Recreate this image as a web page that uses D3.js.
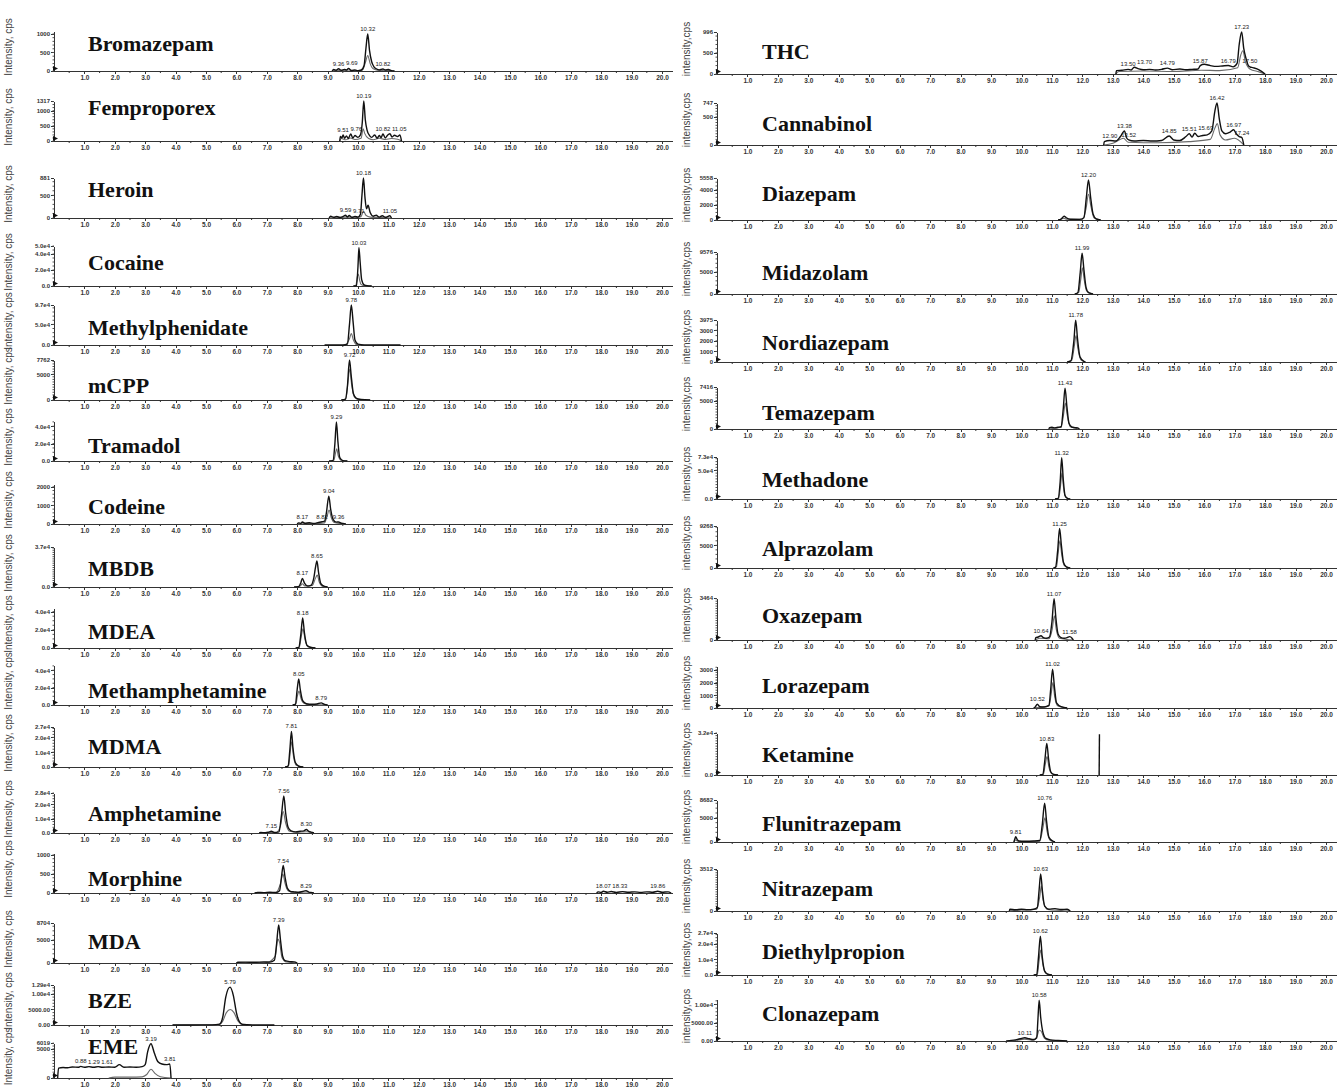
<!DOCTYPE html>
<meta charset="utf-8">
<style>
body { margin: 0; background: #fff; }
svg { display: block; }
.axis path, .axis line { stroke: #333; stroke-width: 1; shape-rendering: crispEdges; }
.axis text { font-family: "Liberation Sans", Arial, sans-serif; fill: #333; }
.xa text { font-size: 6.5px; font-weight: bold; }
.ya text { font-size: 6px; font-weight: bold; }
.title { font-family: "Liberation Serif", "Times New Roman", serif; font-weight: bold; font-size: 22px; fill: #111; }
.ylab { font-family: "Liberation Sans", Arial, sans-serif; font-size: 10px; fill: #444; }
.pk { font-family: "Liberation Sans", Arial, sans-serif; font-size: 6px; fill: #222; }
</style>
<body>
<script src="https://cdn.jsdelivr.net/npm/d3@7"></script>
<script>

var width = 1341,
    height = 1091;

// ---- left column data ----
var leftNames = ["Bromazepam", "Femproporex", "Heroin", "Cocaine", "Methylphenidate", "mCPP",
  "Tramadol", "Codeine", "MBDB", "MDEA", "Methamphetamine", "MDMA", "Amphetamine",
  "Morphine", "MDA", "BZE", "EME"];

var leftYMax = [1080, 1317, 881, 50000, 97000, 7762, 46000, 2150, 37000, 44000, 46000,
  27000, 28000, 1050, 8704, 12900, 6019];

var leftYTicks = [
  ["0", "500", "1000"],
  ["0", "500", "1000", "1317"],
  ["0", "500", "881"],
  ["0.0", "2.0e4", "4.0e4", "5.0e4"],
  ["0.0", "5.0e4", "9.7e4"],
  ["0", "5000", "7762"],
  ["0.0", "2.0e4", "4.0e4"],
  ["0", "1000", "2000"],
  ["0.0", "3.7e4"],
  ["0.0", "2.0e4", "4.0e4"],
  ["0.0", "2.0e4", "4.0e4"],
  ["0.0", "1.0e4", "2.0e4", "2.7e4"],
  ["0.0", "1.0e4", "2.0e4", "2.8e4"],
  ["0", "500", "1000"],
  ["0", "5000", "8704"],
  ["0.00", "5000.00", "1.00e4", "1.29e4"],
  ["0", "5000", "6019"]
];

// quantifier trace (rt, intensity); nested lists = several segments
var leftMain = [
  [[9.15,0],[9.2,40],[9.28,20],[9.36,60],[9.45,20],[9.55,45],[9.62,25],[9.69,70],[9.78,15],[9.9,25],[10.0,10],[10.1,20],[10.2,150],[10.26,600],[10.32,1000],[10.38,550],[10.45,250],[10.52,120],[10.6,60],[10.7,30],[10.82,55],[10.9,25],[11.0,40],[11.1,10],[11.2,0]],
  [[9.4,0],[9.42,150],[9.47,100],[9.51,200],[9.56,90],[9.62,170],[9.68,80],[9.76,230],[9.83,100],[9.9,180],[10.0,120],[10.08,200],[10.14,600],[10.19,1317],[10.24,700],[10.3,350],[10.38,180],[10.45,120],[10.55,200],[10.63,90],[10.7,180],[10.76,110],[10.82,230],[10.9,100],[10.97,190],[11.05,240],[11.12,130],[11.2,190],[11.3,150],[11.38,200],[11.43,0]],
  [[9.05,0],[9.1,40],[9.2,15],[9.3,35],[9.4,10],[9.5,30],[9.59,60],[9.65,20],[9.71,55],[9.8,15],[9.9,35],[10.0,20],[10.08,80],[10.13,500],[10.18,881],[10.23,450],[10.28,200],[10.33,280],[10.4,120],[10.5,40],[10.6,60],[10.7,20],[10.8,50],[10.9,15],[11.05,50],[11.1,0]],
  [[9.85,0],[9.95,500],[10.0,25000],[10.03,48000],[10.07,30000],[10.12,8000],[10.2,1500],[10.3,300],[10.45,0]],
  [[8.9,0],[9.5,0],[9.65,2000],[9.72,50000],[9.78,97000],[9.84,55000],[9.9,12000],[10.0,2000],[10.2,300],[11.4,0]],
  [[9.45,0],[9.58,100],[9.65,2500],[9.72,7762],[9.78,4500],[9.85,1200],[9.95,300],[10.1,100],[10.4,0]],
  [[9.05,0],[9.18,800],[9.24,20000],[9.29,45000],[9.34,22000],[9.4,4000],[9.5,500],[9.65,0]],
  [[8.0,0],[8.05,60],[8.12,30],[8.17,110],[8.25,40],[8.4,70],[8.55,30],[8.7,80],[8.82,120],[8.9,150],[8.96,600],[9.04,1500],[9.1,800],[9.18,250],[9.28,100],[9.36,110],[9.45,40],[9.55,20],[9.6,0]],
  [[7.9,0],[8.05,300],[8.12,4000],[8.17,8000],[8.24,3500],[8.35,800],[8.45,1500],[8.55,9000],[8.6,18000],[8.65,24000],[8.7,14000],[8.78,3000],[8.9,500],[9.0,0]],
  [[7.95,0],[8.05,500],[8.12,15000],[8.18,33000],[8.24,16000],[8.32,3000],[8.45,500],[8.6,0]],
  [[7.85,0],[7.94,800],[8.0,18000],[8.05,30000],[8.1,18000],[8.18,5000],[8.3,1500],[8.5,800],[8.65,1200],[8.79,2500],[8.88,1000],[9.0,0]],
  [[7.6,0],[7.7,600],[7.76,12000],[7.81,24000],[7.86,13000],[7.94,3000],[8.05,500],[8.2,0]],
  [[6.75,0],[6.8,300],[6.95,200],[7.05,500],[7.15,1200],[7.25,400],[7.4,800],[7.48,12000],[7.56,26000],[7.62,14000],[7.7,4000],[7.8,1500],[7.95,800],[8.1,1200],[8.22,1500],[8.3,2500],[8.38,1200],[8.5,400],[8.55,0]],
  [[[6.6,0],[6.7,15],[6.9,10],[7.1,20],[7.3,15],[7.42,60],[7.48,400],[7.54,720],[7.6,420],[7.68,120],[7.78,40],[7.9,30],[8.05,20],[8.18,40],[8.29,60],[8.38,25],[8.5,10],[8.55,0]],
   [[17.85,0],[17.9,30],[18.0,15],[18.07,45],[18.2,20],[18.33,40],[18.5,15],[18.7,35],[18.9,20],[19.1,30],[19.3,15],[19.5,30],[19.7,20],[19.86,45],[20.0,20],[20.2,30],[20.3,0]]],
  [[6.0,0],[6.05,150],[6.3,200],[6.6,150],[6.9,250],[7.1,200],[7.25,600],[7.32,4000],[7.39,8300],[7.45,5000],[7.52,1500],[7.6,500],[7.75,300],[7.9,250],[8.0,0]],
  [[3.9,0],[4.5,20],[5.2,50],[5.45,300],[5.55,2500],[5.65,9000],[5.79,12200],[5.9,9500],[6.0,4000],[6.1,1000],[6.2,200],[6.5,30],[7.25,0]],
  [[0.12,0],[0.15,1700],[0.3,1800],[0.45,1750],[0.6,1900],[0.8,1850],[0.88,2000],[1.0,1850],[1.15,1950],[1.3,1850],[1.45,1950],[1.6,1850],[1.8,1900],[2.0,1850],[2.15,2300],[2.3,1850],[2.5,1900],[2.7,1850],[2.9,1950],[3.0,2300],[3.08,4500],[3.19,5900],[3.3,4300],[3.42,2800],[3.55,2400],[3.7,2300],[3.81,2400],[3.85,0]]
];

// qualifier trace
var leftSecond = [
  [[9.15,0],[9.3,20],[9.5,10],[9.7,25],[9.9,5],[10.15,30],[10.25,250],[10.32,420],[10.4,200],[10.5,60],[10.7,15],[10.9,20],[11.2,0]],
  [[9.4,0],[9.45,80],[9.6,40],[9.75,100],[9.9,50],[10.1,90],[10.17,400],[10.22,250],[10.35,80],[10.5,40],[10.7,90],[10.9,50],[11.1,80],[11.3,60],[11.43,0]],
  [[9.05,0],[9.3,10],[9.6,20],[9.9,10],[10.1,30],[10.18,150],[10.26,60],[10.4,20],[10.8,10],[11.1,0]],
  [[9.85,0],[9.93,1000],[9.98,12000],[10.01,15000],[10.05,8000],[10.1,2000],[10.2,300],[10.45,0]],
  [[9.6,0],[9.72,15000],[9.78,28000],[9.85,12000],[9.95,1000],[10.1,0]],
  [[9.45,0],[9.6,200],[9.67,3500],[9.73,6000],[9.79,3000],[9.88,600],[10.0,100],[10.4,0]],
  [[9.05,0],[9.2,500],[9.26,9000],[9.3,14000],[9.35,6000],[9.45,800],[9.65,0]],
  [[8.0,0],[8.3,30],[8.6,20],[8.9,60],[8.98,400],[9.05,750],[9.12,350],[9.22,80],[9.4,20],[9.6,0]],
  [[7.9,0],[8.1,1000],[8.17,3000],[8.25,1000],[8.5,1500],[8.6,8000],[8.66,11000],[8.72,5000],[8.82,800],[9.0,0]],
  [[7.95,0],[8.07,800],[8.13,12000],[8.19,21000],[8.26,9000],[8.35,1500],[8.6,0]],
  [[7.85,0],[7.96,1500],[8.01,11000],[8.06,16000],[8.12,8000],[8.22,2000],[8.4,400],[9.0,0]],
  [[7.6,0],[7.72,900],[7.77,10000],[7.82,17000],[7.88,7000],[7.97,1200],[8.2,0]],
  [[6.75,0],[7.0,200],[7.3,300],[7.45,5000],[7.54,15000],[7.62,7000],[7.75,1200],[8.0,400],[8.3,900],[8.55,0]],
  [[6.6,0],[7.3,10],[7.45,250],[7.53,500],[7.6,250],[7.7,60],[7.9,15],[8.55,0]],
  [[6.0,0],[6.5,80],[7.0,100],[7.28,1500],[7.36,5200],[7.42,4500],[7.5,1200],[7.65,200],[8.0,0]],
  [[3.9,0],[5.4,50],[5.55,1200],[5.67,4000],[5.8,5000],[5.92,4000],[6.05,1300],[6.2,200],[6.5,0]],
  [[1.8,0],[2.0,150],[2.5,150],[2.9,200],[3.05,600],[3.19,1500],[3.32,800],[3.5,200],[3.85,0]]
];

var leftPeaks = [
  ["9.36", "9.69", "10.32", "10.82"],
  ["9.51", "9.76", "10.19", "10.82", "11.05"],
  ["9.59", "9.71", "10.18", "11.05"],
  ["10.03"],
  ["9.78"],
  ["9.72"],
  ["9.29"],
  ["8.17", "8.82", "9.04", "9.36"],
  ["8.17", "8.65"],
  ["8.18"],
  ["8.05", "8.79"],
  ["7.81"],
  ["7.15", "7.56", "8.30"],
  ["7.54", "8.29", "18.07", "18.33", "19.86"],
  ["7.39"],
  ["5.79"],
  ["0.88", "1.29", "1.61", "3.19", "3.81"]
];

// ---- right column data ----
var rightNames = ["THC", "Cannabinol", "Diazepam", "Midazolam", "Nordiazepam", "Temazepam",
  "Methadone", "Alprazolam", "Oxazepam", "Lorazepam", "Ketamine", "Flunitrazepam",
  "Nitrazepam", "Diethylpropion", "Clonazepam"];

var rightYMax = [996, 747, 5558, 9576, 3975, 7416, 73000, 9268, 3464, 3300, 32000, 8682,
  3512, 27000, 11500];

var rightYTicks = [
  ["0", "500", "996"],
  ["0", "500", "747"],
  ["0", "2000", "4000", "5558"],
  ["0", "5000", "9576"],
  ["0", "1000", "2000", "3000", "3975"],
  ["0", "5000", "7416"],
  ["0.0", "5.0e4", "7.3e4"],
  ["0", "5000", "9268"],
  ["0", "3464"],
  ["0", "1000", "2000", "3000"],
  ["0.0", "3.2e4"],
  ["0", "5000", "8682"],
  ["0", "3512"],
  ["0.0", "1.0e4", "2.0e4", "2.7e4"],
  ["0.00", "5000.00", "1.00e4"]
];

var rightMain = [
  [[13.1,0],[13.12,80],[13.3,90],[13.5,110],[13.6,95],[13.7,160],[13.85,120],[14.0,100],[14.2,110],[14.4,95],[14.6,110],[14.79,140],[14.95,100],[15.2,120],[15.4,100],[15.6,110],[15.8,120],[15.87,200],[16.0,230],[16.2,200],[16.4,180],[16.6,190],[16.79,200],[16.95,170],[17.08,250],[17.15,700],[17.23,996],[17.3,600],[17.38,350],[17.45,200],[17.5,170],[17.6,150],[17.8,100],[18.0,0]],
  [[12.7,0],[12.72,60],[12.9,80],[13.1,70],[13.25,150],[13.38,250],[13.45,130],[13.52,90],[13.7,70],[14.0,80],[14.3,70],[14.6,80],[14.85,160],[15.0,90],[15.2,80],[15.4,150],[15.51,200],[15.6,140],[15.69,210],[15.8,150],[15.95,170],[16.1,180],[16.25,250],[16.35,600],[16.42,747],[16.5,450],[16.58,250],[16.7,200],[16.85,230],[16.97,270],[17.05,200],[17.15,150],[17.24,130],[17.3,0]],
  [[11.2,0],[11.3,100],[11.4,500],[11.47,300],[11.6,100],[11.9,80],[12.05,300],[12.13,3000],[12.2,5300],[12.27,3000],[12.35,800],[12.45,150],[12.6,0]],
  [[11.75,0],[11.85,300],[11.93,5000],[11.99,9300],[12.05,5500],[12.12,1500],[12.2,300],[12.35,0]],
  [[11.5,0],[11.62,100],[11.72,2000],[11.78,3950],[11.84,2200],[11.92,500],[12.05,50],[12.1,0]],
  [[10.9,0],[10.92,250],[11.0,300],[11.1,200],[11.2,300],[11.3,400],[11.37,3500],[11.43,7200],[11.49,4000],[11.56,1000],[11.65,350],[11.75,250],[11.85,200],[11.9,0]],
  [[11.1,0],[11.2,800],[11.27,30000],[11.32,72000],[11.37,35000],[11.43,6000],[11.52,800],[11.6,0]],
  [[11.05,0],[11.12,200],[11.19,4000],[11.25,8700],[11.31,5000],[11.38,1200],[11.48,200],[11.6,0]],
  [[10.45,0],[10.47,200],[10.55,250],[10.64,350],[10.72,200],[10.82,150],[10.92,250],[11.0,1500],[11.07,3400],[11.13,1800],[11.2,500],[11.3,200],[11.4,150],[11.5,200],[11.58,280],[11.66,150],[11.7,0]],
  [[10.4,0],[10.45,80],[10.52,300],[10.6,100],[10.75,80],[10.9,200],[10.96,1500],[11.02,3050],[11.08,1700],[11.15,400],[11.3,100],[11.5,0]],
  [[[10.6,0],[10.7,500],[10.77,12000],[10.83,24000],[10.89,12000],[10.96,2500],[11.05,500],[11.2,0]],
   [[12.55,0],[12.56,31000]]],
  [[9.75,0],[9.78,600],[9.81,1100],[9.86,500],[9.92,200],[10.1,150],[10.4,200],[10.6,300],[10.68,3500],[10.76,8000],[10.82,4500],[10.9,1000],[11.0,300],[11.1,0]],
  [[9.6,0],[9.62,150],[9.8,100],[10.0,150],[10.2,100],[10.4,150],[10.52,300],[10.58,1800],[10.63,3100],[10.69,1600],[10.76,400],[10.9,150],[11.1,200],[11.3,120],[11.5,150],[11.6,0]],
  [[10.4,0],[10.5,300],[10.56,12000],[10.62,25000],[10.68,12000],[10.76,2500],[10.88,300],[11.0,0]],
  [[9.5,0],[9.6,100],[9.8,300],[10.0,700],[10.11,900],[10.25,600],[10.4,400],[10.5,900],[10.54,6000],[10.58,11200],[10.63,6500],[10.7,2500],[10.8,700],[10.95,300],[11.2,150],[11.5,0]]
];

var rightSecond = [
  [[13.1,0],[13.2,60],[14.0,70],[15.0,60],[15.9,90],[16.5,80],[17.1,150],[17.2,450],[17.27,550],[17.35,300],[17.5,120],[17.8,50],[18.0,0]],
  [[12.7,0],[13.0,30],[13.35,120],[13.5,50],[14.5,40],[15.5,60],[16.2,100],[16.35,300],[16.43,380],[16.52,180],[16.7,90],[17.0,120],[17.3,0]],
  [[11.2,0],[11.4,200],[11.5,100],[12.0,80],[12.12,1500],[12.2,3400],[12.28,1800],[12.38,300],[12.6,0]],
  [[11.75,0],[11.88,400],[11.95,3500],[12.0,6000],[12.06,3200],[12.14,700],[12.35,0]],
  [[11.5,0],[11.65,150],[11.73,1400],[11.79,2500],[11.85,1300],[11.95,200],[12.1,0]],
  [[10.9,0],[11.1,150],[11.3,300],[11.38,2500],[11.44,4600],[11.5,2500],[11.6,400],[11.9,0]],
  [[11.1,0],[11.22,800],[11.28,22000],[11.33,45000],[11.38,20000],[11.45,3000],[11.6,0]],
  [[11.05,0],[11.15,300],[11.2,3000],[11.26,6000],[11.32,3000],[11.4,600],[11.6,0]],
  [[10.45,0],[10.6,150],[10.9,100],[11.01,900],[11.08,2000],[11.14,900],[11.25,150],[11.7,0]],
  [[10.4,0],[10.6,50],[10.9,150],[10.97,1000],[11.03,2000],[11.09,900],[11.2,150],[11.5,0]],
  [[10.6,0],[10.72,600],[10.78,8000],[10.84,14000],[10.9,6000],[11.0,900],[11.2,0]],
  [[9.75,0],[9.8,400],[9.9,100],[10.6,150],[10.7,2800],[10.77,5000],[10.84,2200],[10.95,300],[11.1,0]],
  [[9.6,0],[10.0,80],[10.5,150],[10.6,1200],[10.65,2100],[10.71,900],[10.85,120],[11.6,0]],
  [[10.4,0],[10.52,300],[10.57,8000],[10.63,16000],[10.7,7000],[10.8,1200],[11.0,0]],
  [[9.5,0],[9.8,150],[10.1,500],[10.4,200],[10.52,1500],[10.58,3000],[10.65,2600],[10.75,800],[10.9,200],[11.5,0]]
];

var rightPeaks = [
  ["13.50", "13.70", "14.79", "15.87", "16.79", "17.23", "17.50"],
  ["12.90", "13.38", "13.52", "14.85", "15.51", "15.69", "16.42", "16.97", "17.24"],
  ["12.20"],
  ["11.99"],
  ["11.78"],
  ["11.43"],
  ["11.32"],
  ["11.25"],
  ["10.64", "11.07", "11.58"],
  ["10.52", "11.02"],
  ["10.83"],
  ["9.81", "10.76"],
  ["10.63"],
  ["10.62"],
  ["10.11", "10.58"]
];

// ---- layout ----
var leftBase = [71, 141, 218, 286, 345, 400, 461, 524, 587, 648, 705, 767, 833, 893, 963, 1025, 1078];
var leftH = [40, 40, 40, 40, 40, 40, 40, 40, 40, 40, 40, 40, 40, 40, 40, 40, 35];
var leftTitleY = [43, 107, 189, 262, 327, 385, 445, 506, 568, 631, 690, 746, 813, 878, 941, 1000, 1046];
var rightBase = [74, 145, 220, 294, 362, 429, 499, 568, 640, 708, 775, 842, 911, 975, 1041];
var rightH = [42, 42, 42, 42, 42, 42, 42, 42, 42, 42, 42, 42, 42, 42, 42];
var rightTitleY = [51, 123, 193, 272, 342, 412, 479, 548, 615, 685, 754, 823, 888, 951, 1013];

var svg = d3.select("body").append("svg")
    .attr("width", width)
    .attr("height", height);

function segments(tr) {
  return Array.isArray(tr[0][0]) ? tr : [tr];
}

function drawColumn(o) {
  var x = d3.scaleLinear().domain([0, 20.35]).range([o.x0, o.x0 + 20.35 * o.unit]);

  o.names.forEach(function(name, i) {
    var base = o.base[i], h = o.h[i];
    var y = d3.scaleLinear().domain([0, o.yMax[i]]).range([base, base - h]);
    var g = svg.append("g");
    var line = d3.line()
        .x(function(d) { return x(d[0]); })
        .y(function(d) { return y(d[1]); })
        .curve(d3.curveMonotoneX);

    // y label
    g.append("text")
        .attr("class", "ylab")
        .attr("transform", "translate(" + o.ylabX + "," + (base - h / 2 - 4) + ") rotate(-90)")
        .attr("text-anchor", "middle")
        .attr("dominant-baseline", "central")
        .text(o.ylab);

    // x axis
    g.append("g")
        .attr("class", "axis xa")
        .attr("transform", "translate(0," + base + ")")
        .call(d3.axisBottom(x).tickValues(d3.range(1, 21)).tickFormat(d3.format(".1f"))
          .tickSize(3).tickSizeOuter(0).tickPadding(1));

    g.append("g").selectAll("line")
        .data(d3.range(0.5, 20.5, 1))
      .enter().append("line")
        .attr("x1", function(d) { return x(d); })
        .attr("x2", function(d) { return x(d); })
        .attr("y1", base).attr("y2", base + 2)
        .attr("stroke", "#333");

    // y axis
    var labs = o.yTicks[i];
    g.append("g")
        .attr("class", "axis ya")
        .attr("transform", "translate(" + o.x0 + ",0)")
        .call(d3.axisLeft(y).tickValues(labs.map(Number))
          .tickFormat(function(d, j) { return labs[j]; })
          .tickSize(3).tickSizeOuter(0).tickPadding(1));

    g.append("g").selectAll("line")
        .data(y.ticks(12))
      .enter().append("line")
        .attr("x1", o.x0 - 1.5).attr("x2", o.x0)
        .attr("y1", function(d) { return y(d); })
        .attr("y2", function(d) { return y(d); })
        .attr("stroke", "#555");

    // origin marker
    g.append("path")
        .attr("d", "M" + (o.x0 - 1) + "," + (base - 5) + "L" + (o.x0 + 4) + "," + (base - 2.5) + "L" + (o.x0 - 1) + "," + base + "Z")
        .attr("fill", "#111");

    // title
    g.append("text")
        .attr("class", "title")
        .attr("x", o.titleX)
        .attr("y", o.titleY[i])
        .attr("dominant-baseline", "central")
        .text(name);

    // traces
    segments(o.second[i]).forEach(function(s) {
      g.append("path").attr("d", line(s))
          .attr("fill", "none").attr("stroke", "#6a6a6a").attr("stroke-width", 1.1);
    });
    var main = segments(o.main[i]);
    main.forEach(function(s) {
      g.append("path").attr("d", line(s))
          .attr("fill", "none").attr("stroke", "#111").attr("stroke-width", 1.4);
    });

    // peak labels, pushed right when they would collide (as the instrument software does)
    var pts = [].concat.apply([], main);
    var placed = [];
    o.peaks[i].forEach(function(t) {
      var rt = +t;
      var near = pts.filter(function(p) { return Math.abs(p[0] - rt) < 0.06; });
      if (!near.length) near = [pts.reduce(function(a, b) { return Math.abs(a[0] - rt) < Math.abs(b[0] - rt) ? a : b; })];
      var v = d3.max(near, function(p) { return p[1]; });
      var lbl = g.append("text")
          .attr("class", "pk")
          .attr("y", y(v) - 3)
          .text(t);
      var w = lbl.node().getComputedTextLength();
      var lx = x(rt) - w / 2, ly = y(v) - 3;
      placed.forEach(function(b) {
        if (Math.abs(b.y - ly) < 7 && lx < b.x + b.w + 1.5 && lx + w > b.x) lx = b.x + b.w + 1.5;
      });
      lbl.attr("x", lx);
      placed.push({ x: lx, y: ly, w: w });
    });
  });
}

drawColumn({
  names: leftNames, yMax: leftYMax, yTicks: leftYTicks, main: leftMain, second: leftSecond,
  peaks: leftPeaks, base: leftBase, h: leftH, titleY: leftTitleY,
  x0: 54, unit: 30.4, titleX: 88, ylabX: 8, ylab: "Intensity, cps"
});

drawColumn({
  names: rightNames, yMax: rightYMax, yTicks: rightYTicks, main: rightMain, second: rightSecond,
  peaks: rightPeaks, base: rightBase, h: rightH, titleY: rightTitleY,
  x0: 717, unit: 30.45, titleX: 762, ylabX: 686, ylab: "intensity,cps"
});

</script>
</body>
